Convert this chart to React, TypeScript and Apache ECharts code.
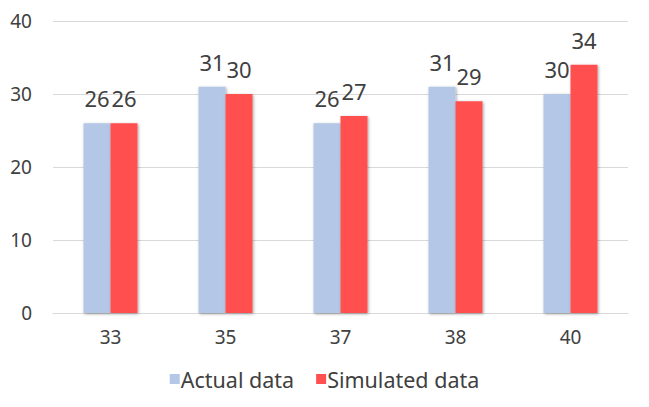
import React, { useEffect, useRef } from "react";
import * as echarts from "echarts";

const categories = ["33", "35", "37", "38", "40"];
const actualData = [26, 31, 26, 31, 30];
const simulatedData = [26, 30, 27, 29, 34];
const seriesNames = ["Actual data", "Simulated data"];

const FONT = "'Noto Sans', sans-serif";
const TEXT = "#404040";

export default function App() {
  const ref = useRef<HTMLDivElement>(null);
  useEffect(() => {
    if (!ref.current) return;
    const chart = echarts.init(ref.current, undefined, { renderer: "svg" });
    const barStyle = (color: string) => ({
      color,
      shadowColor: "rgba(0,0,0,0.35)",
      shadowBlur: 3,
      shadowOffsetX: 1,
      shadowOffsetY: 1,
    });
    const label = {
      show: true,
      position: "top" as const,
      distance: 14,
      color: TEXT,
      fontFamily: FONT,
      fontSize: 22,
    };
    chart.setOption({
      animation: false,
      backgroundColor: "#ffffff",
      textStyle: { fontFamily: FONT },
      grid: { left: 53, right: 21, top: 21, bottom: 94, containLabel: false },
      legend: {
        bottom: 12,
        left: "center",
        itemWidth: 10,
        itemHeight: 10,
        itemGap: 22,
        icon: "rect",
        textStyle: { color: TEXT, fontFamily: FONT, fontSize: 21.5, padding: [0, 0, 0, -4] },
        data: seriesNames,
      },
      xAxis: {
        type: "category",
        data: categories,
        axisLine: { lineStyle: { color: "#d9d9d9", width: 1 } },
        axisTick: { show: false },
        axisLabel: { color: TEXT, fontFamily: FONT, fontSize: 19, margin: 14 },
      },
      yAxis: {
        type: "value",
        min: 0,
        max: 40,
        interval: 10,
        axisLine: { show: false },
        axisTick: { show: false },
        axisLabel: { color: TEXT, fontFamily: FONT, fontSize: 19, margin: 21 },
        splitLine: { lineStyle: { color: "#d9d9d9", width: 1 } },
      },
      series: [
        {
          name: seriesNames[0],
          type: "bar",
          data: actualData,
          barWidth: 27,
          barGap: "0%",
          itemStyle: barStyle("#b4c7e7"),
          label,
        },
        {
          name: seriesNames[1],
          type: "bar",
          data: simulatedData,
          barWidth: 27,
          barGap: "0%",
          itemStyle: barStyle("#ff5050"),
          label,
        },
      ],
    });
    return () => chart.dispose();
  }, []);
  return <div ref={ref} style={{ width: 649, height: 407, position: "absolute", left: 0, top: 0 }} />;
}
